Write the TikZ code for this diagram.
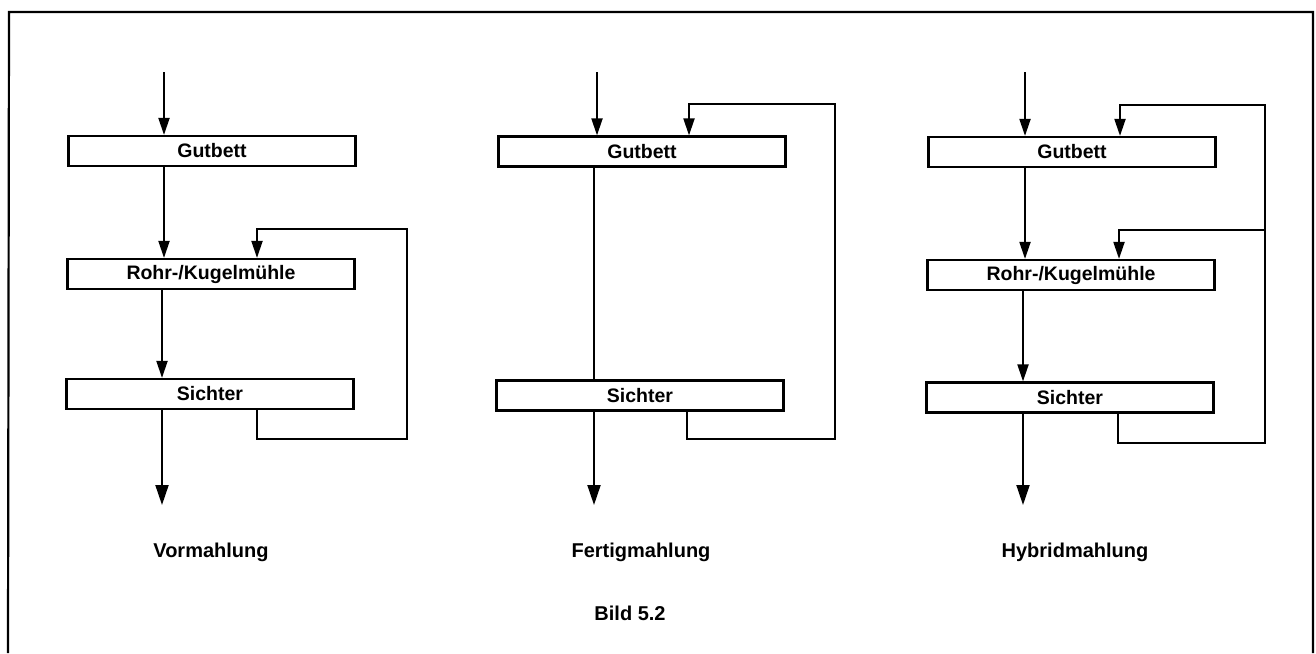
\documentclass[tikz,border=0pt]{standalone}
\usepackage{fontspec}
\setmainfont{Liberation Sans}
\usetikzlibrary{arrows.meta,calc}
\begin{document}
\begin{tikzpicture}[x=1pt,y=-1pt,
  box/.style={draw,line width=2.2pt,minimum width=287pt,minimum height=30pt,inner sep=0pt,
    font=\fontsize{19.5}{21}\selectfont\bfseries},
  flow/.style={line width=2pt},
  arr/.style={flow,-{Triangle[length=17pt,width=11pt]}},
  outarr/.style={flow,-{Triangle[length=20pt,width=13pt]}},
  lbl/.style={font=\fontsize{20}{23}\selectfont\bfseries,anchor=base}]
\useasboundingbox (0,0) rectangle (1316,653);
% frame
\draw[line width=2.2pt] (8,653) -- (9,12) -- (1313,12) -- (1313,653);

% ---- Vormahlung
\node[box] (G1) at (212,151) {Gutbett};
\node[box] (R1) at (211,274) {Rohr-/Kugelmühle};
\node[box] (S1) at (210,394) {Sichter};
\coordinate (in1) at (164,72);
\coordinate (out1) at (162,505);
\coordinate (f1a) at (257,439);
\coordinate (f1b) at (407,229);
\draw[arr] (in1) -- (G1.north -| in1);
\draw[arr] (G1.south -| in1) -- (R1.north -| in1);
\draw[arr] (R1.south -| out1) -- (S1.north -| out1);
\draw[outarr] (S1.south -| out1) -- (out1);
\draw[arr] (S1.south -| f1a) -- (f1a) -| (f1b) -| (R1.north -| f1a);
\node[lbl] (L1) at (211,557) {Vormahlung};

% ---- Fertigmahlung
\node[box] (G2) at (642,151.5) {Gutbett};
\node[box] (S2) at (640,395.5) {Sichter};
\coordinate (in2) at (597,72);
\coordinate (out2) at (594,505);
\coordinate (f2a) at (687,439);
\coordinate (f2b) at (835,104);
\coordinate (f2c) at (689,104);
\draw[arr] (in2) -- (G2.north -| in2);
\draw[flow] (G2.south -| out2) -- (S2.north -| out2);
\draw[outarr] (S2.south -| out2) -- (out2);
\draw[arr] (S2.south -| f2a) -- (f2a) -| (f2b) -- (f2c) -- (G2.north -| f2c);
\node[lbl] (L2) at (641,557) {Fertigmahlung};

% ---- Hybridmahlung
\node[box] (G3) at (1072,152) {Gutbett};
\node[box] (R3) at (1071,275) {Rohr-/Kugelmühle};
\node[box] (S3) at (1070,397.5) {Sichter};
\coordinate (in3) at (1025,72);
\coordinate (out3) at (1023,505);
\coordinate (f3a) at (1118,443);
\coordinate (f3b) at (1265,105);
\coordinate (f3c) at (1120,105);
\coordinate (f3d) at (1265,230);
\coordinate (f3e) at (1119,230);
\draw[arr] (in3) -- (G3.north -| in3);
\draw[arr] (G3.south -| in3) -- (R3.north -| in3);
\draw[arr] (R3.south -| out3) -- (S3.north -| out3);
\draw[outarr] (S3.south -| out3) -- (out3);
\draw[arr] (S3.south -| f3a) -- (f3a) -| (f3b) -- (f3c) -- (G3.north -| f3c);
\draw[arr] (f3d) -- (f3e) -- (R3.north -| f3e);
\node[lbl] (L3) at (1075,557) {Hybridmahlung};

% caption
\node[lbl] (cap) at (630,620) {Bild 5.2};
\end{tikzpicture}
\end{document}
